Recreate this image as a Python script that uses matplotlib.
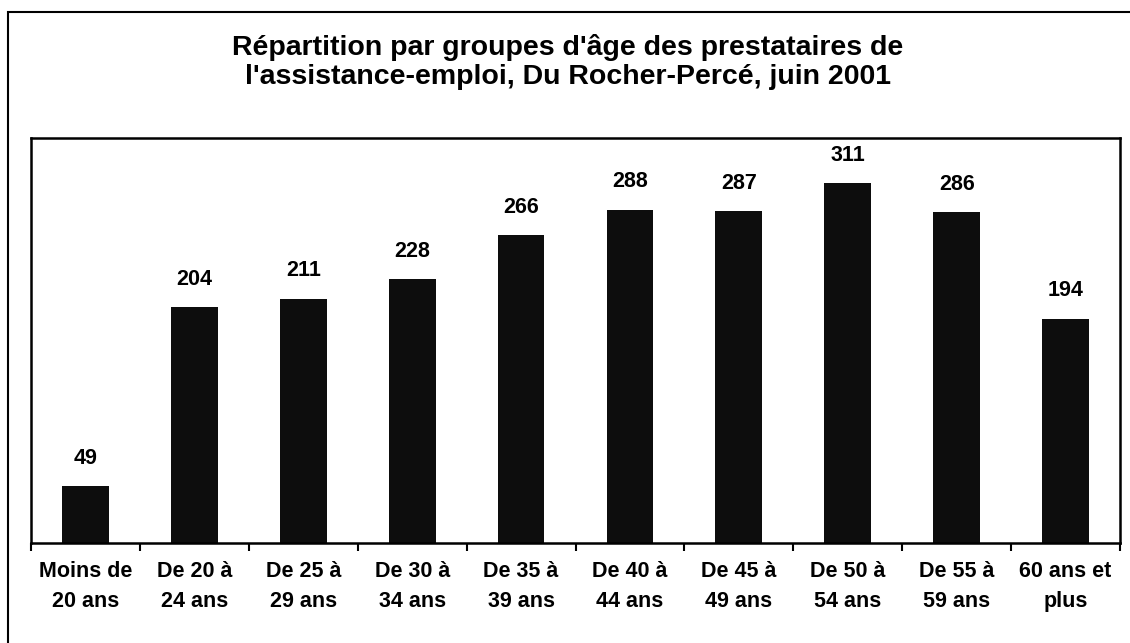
import numpy as np
import matplotlib
matplotlib.use("Agg")
import matplotlib.pyplot as plt
from matplotlib.patches import Rectangle

categories = ["Moins de\n20 ans", "De 20 à\n24 ans", "De 25 à\n29 ans", "De 30 à\n34 ans",
              "De 35 à\n39 ans", "De 40 à\n44 ans", "De 45 à\n49 ans", "De 50 à\n54 ans",
              "De 55 à\n59 ans", "60 ans et\nplus"]
values = [49, 204, 211, 228, 266, 288, 287, 311, 286, 194]
title = "Répartition par groupes d'âge des prestataires de\nl'assistance-emploi, Du Rocher-Percé, juin 2001"

plt.rcParams["font.family"] = ["Liberation Sans", "DejaVu Sans"]

fig = plt.figure(figsize=(11.30, 6.43), dpi=100)
ax = fig.add_axes([31 / 1130, 100 / 643, 1089 / 1130, 405 / 643])

x = np.arange(len(values))
ax.bar(x, values, width=0.43, color="#0d0d0d", zorder=2)

for xi, v in zip(x, values):
    ax.text(xi, v + 15, str(v), ha="center", va="bottom", fontsize=15.5, fontweight="bold")

ax.set_xlim(-0.5, len(values) - 0.5)
ax.set_ylim(0, 350)
ax.set_yticks([])

# tick marks on the category boundaries, labels at the centres
ax.set_xticks(np.arange(-0.5, len(values), 1.0))
ax.set_xticklabels([])
ax.tick_params(axis="x", which="major", direction="out", length=6, width=1.5, color="black")
ax.set_xticks(x, minor=True)
ax.set_xticklabels(categories, minor=True, fontsize=15.5, fontweight="bold", linespacing=1.55)
ax.tick_params(axis="x", which="minor", length=0, pad=13)

for s in ax.spines.values():
    s.set_linewidth(1.8)
    s.set_color("black")

fig.text(568 / 1130, 1 - 62 / 643, title, ha="center", va="center",
         fontsize=20.5, fontweight="bold", linespacing=1.12)

# outer frame
fig.patches.append(Rectangle((8 / 1130, -0.05), 1.1, 1 - 12 / 643 + 0.05,
                             transform=fig.transFigure, fill=False,
                             edgecolor="black", linewidth=1.5, clip_on=False))

fig.savefig("out.png", dpi=100)
